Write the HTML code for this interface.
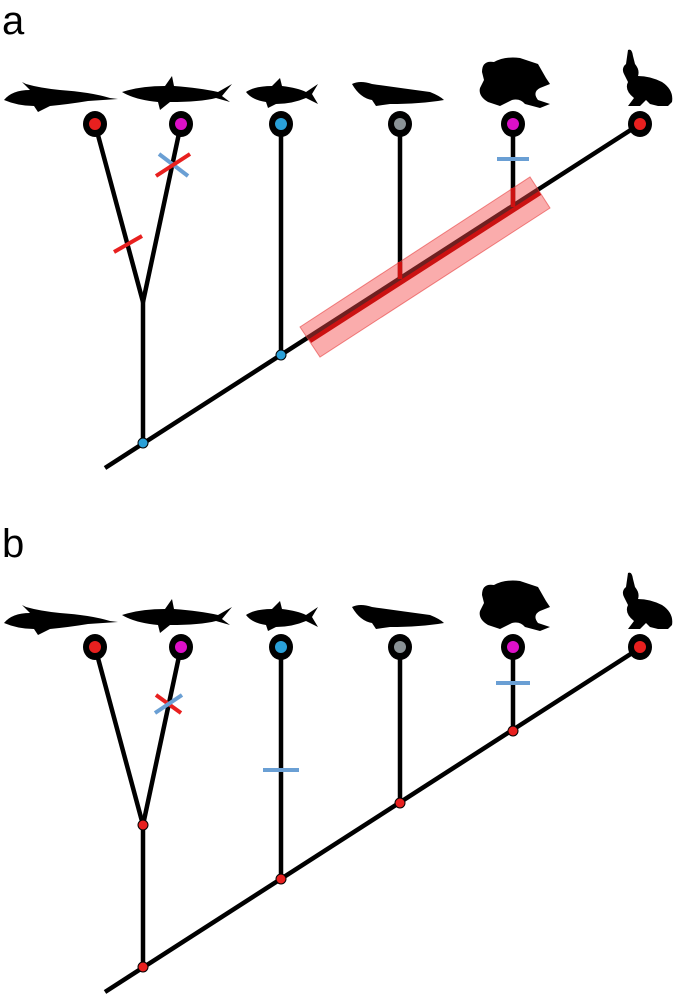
<!DOCTYPE html>
<html><head><meta charset="utf-8"><style>
html,body{margin:0;padding:0;background:#fff;width:685px;height:1000px;overflow:hidden}
svg{display:block}
</style></head><body>
<svg width="685" height="1000" viewBox="0 0 685 1000" xmlns="http://www.w3.org/2000/svg">
<defs>
<g id="animals" fill="#000">
  <path d="M4,100 Q12,90 30,90 L22,82 L26,84 Q40,88 60,90 Q90,92 110,98 L118,99 L88,101 Q70,104 50,106 L38,112 L34,106 Q18,106 4,100Z"/>
  <path d="M122,92 Q140,86 165,86 L172,76 L174,86 Q200,88 218,92 L232,84 L222,96 L230,102 L216,98 Q200,102 170,102 L160,110 L158,102 Q135,100 122,92Z"/>
  <path d="M246,92 Q255,86 272,86 L280,78 L282,86 Q298,88 306,92 L318,84 L312,94 L318,104 L306,98 Q292,104 276,104 L268,108 L266,102 Q252,100 246,92Z"/>
  <path d="M352,84 Q360,80 372,84 Q400,88 430,92 Q440,96 444,100 Q420,104 390,104 L376,106 L372,100 Q360,98 352,84Z"/>
  <path d="M482,72 Q482,60 494,62 Q505,56 520,58 L538,64 L546,78 L550,84 L540,88 Q532,92 538,100 L550,104 L540,108 L525,104 Q520,98 512,100 L500,106 L488,102 Q478,96 480,88 L484,80Z"/>
  <path d="M624,74 Q621,68 626,64 L628,50 Q632,48 633,56 L635,64 Q640,70 638,76 Q650,76 662,82 Q674,90 672,102 L668,106 L658,106 L650,104 L646,100 L640,106 L628,106 L634,98 Q624,90 628,82Z"/>
</g>
</defs>

<text x="2" y="34" font-family="Liberation Sans, sans-serif" font-size="40" fill="#000">a</text>
<text x="2" y="557" font-family="Liberation Sans, sans-serif" font-size="40" fill="#000">b</text>

<g stroke="#000" stroke-width="4.5" fill="none">
  <line x1="105" y1="468" x2="640" y2="124"/>
  <line x1="95" y1="124" x2="143" y2="302"/>
  <line x1="181" y1="124" x2="143" y2="302"/>
  <line x1="143" y1="300" x2="143" y2="443"/>
  <line x1="281" y1="124" x2="281" y2="355"/>
  <line x1="400" y1="124" x2="400" y2="278"/>
  <line x1="513" y1="124" x2="513" y2="206"/>
</g>
<polygon points="300,327 320,357 550,208 530,177" fill="rgba(245,70,70,0.45)" stroke="rgba(230,60,60,0.6)" stroke-width="1"/>
<g stroke="#cc1111" stroke-width="4.5">
  <line x1="310" y1="341" x2="540" y2="193"/>
  <line x1="400" y1="262" x2="400" y2="279"/>
  <line x1="513" y1="188" x2="513" y2="207"/>
</g>
<line x1="114" y1="252" x2="142" y2="236" stroke="#e8201f" stroke-width="4"/>
<line x1="159" y1="154" x2="188" y2="176" stroke="#6a9fd4" stroke-width="4"/>
<line x1="156" y1="176" x2="190" y2="154" stroke="#e8201f" stroke-width="4"/>
<line x1="497" y1="159" x2="529" y2="159" stroke="#6a9fd4" stroke-width="4"/>
<circle cx="143" cy="443" r="5" fill="#2aa0d8" stroke="#000" stroke-width="1"/>
<circle cx="281" cy="355" r="5" fill="#2aa0d8" stroke="#000" stroke-width="1"/>

<g transform="translate(0,523)">
  <g stroke="#000" stroke-width="4.5" fill="none">
    <line x1="105" y1="469" x2="640" y2="125"/>
    <line x1="95" y1="124" x2="143" y2="302"/>
    <line x1="181" y1="124" x2="143" y2="302"/>
    <line x1="143" y1="300" x2="143" y2="443"/>
    <line x1="281" y1="124" x2="281" y2="355"/>
    <line x1="400" y1="124" x2="400" y2="280"/>
    <line x1="513" y1="124" x2="513" y2="208"/>
  </g>
  <line x1="156" y1="172" x2="181" y2="190" stroke="#e8201f" stroke-width="4"/>
  <line x1="155" y1="190" x2="182" y2="172" stroke="#6a9fd4" stroke-width="4"/>
  <line x1="263" y1="247" x2="299" y2="247" stroke="#6a9fd4" stroke-width="4"/>
  <line x1="496" y1="160" x2="530" y2="160" stroke="#6a9fd4" stroke-width="4"/>
  <g fill="#e8201f" stroke="#000" stroke-width="1">
    <circle cx="143" cy="302" r="5"/>
    <circle cx="143" cy="444" r="5"/>
    <circle cx="281" cy="356" r="5"/>
    <circle cx="400" cy="280" r="5"/>
    <circle cx="513" cy="208" r="5"/>
  </g>
</g>

<g id="tips">
  <g fill="#000">
    <ellipse cx="95" cy="124" rx="12" ry="13"/>
    <ellipse cx="181" cy="124" rx="12" ry="13"/>
    <ellipse cx="281" cy="124" rx="12" ry="13"/>
    <ellipse cx="400" cy="124" rx="12" ry="13"/>
    <ellipse cx="513" cy="124" rx="12" ry="13"/>
    <ellipse cx="640" cy="124" rx="12" ry="13"/>
  </g>
  <circle cx="95" cy="124" r="6" fill="#e8201f"/>
  <circle cx="181" cy="124" r="6" fill="#dd10c8"/>
  <circle cx="281" cy="124" r="6" fill="#2aa0d8"/>
  <circle cx="400" cy="124" r="6" fill="#8a9296"/>
  <circle cx="513" cy="124" r="6" fill="#dd10c8"/>
  <circle cx="640" cy="124" r="6" fill="#e8201f"/>
</g>
<use href="#tips" transform="translate(0,523)"/>
<use href="#animals"/>
<use href="#animals" transform="translate(0,523)"/>
</svg>
</body></html>
